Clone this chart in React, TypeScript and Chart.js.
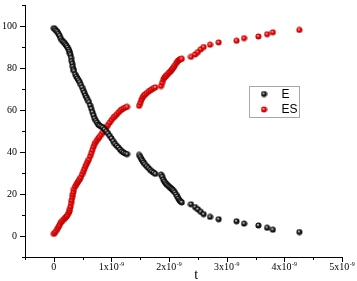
import React, { useEffect, useRef } from 'react';
import { Chart, registerables } from 'chart.js';

Chart.register(...registerables);

// time in units of 1e-9 (converted when building the dataset)
const timeNs = [
  0, 0.02, 0.04, 0.06, 0.08, 0.10, 0.12, 0.14, 0.16, 0.18,
  0.20, 0.22, 0.24, 0.26, 0.27, 0.28, 0.29, 0.30, 0.31, 0.32,
  0.33, 0.34, 0.35, 0.37, 0.39, 0.41, 0.43, 0.45, 0.47, 0.49,
  0.51, 0.53, 0.55, 0.57, 0.59, 0.61, 0.63, 0.65, 0.67, 0.69,
  0.71, 0.73, 0.75, 0.77, 0.79, 0.82, 0.85, 0.88, 0.91, 0.94,
  0.97, 1.00, 1.03, 1.06, 1.09, 1.12, 1.15, 1.18, 1.21, 1.24,
  1.27,
  1.48, 1.50, 1.52, 1.54, 1.56, 1.58, 1.61, 1.64, 1.67, 1.70, 1.73, 1.76,
  1.86, 1.88, 1.90, 1.92, 1.94, 1.96, 1.98, 2.00, 2.02, 2.04, 2.06, 2.08, 2.10, 2.12, 2.14, 2.16, 2.18, 2.20, 2.22,
  2.38, 2.45, 2.50, 2.55, 2.60, 2.71, 2.86, 3.17, 3.30, 3.55, 3.70, 3.80, 4.26,
];

const eValues = [
  99, 98.5, 97.8, 97.2, 96.3, 95.4, 94.2, 93.2, 92.6, 92,
  91.3, 90.6, 89.8, 88.8, 87.9, 87, 86.2, 84.8, 83.3, 82,
  80.6, 79.4, 78.6, 77, 75.9, 75, 74.2, 73.3, 72, 70.8,
  69.4, 68.2, 66.9, 65.9, 64.8, 63.8, 62.2, 60.6, 59, 57.5,
  56, 54.9, 54, 53.1, 52.6, 52.2, 51.6, 50.8, 49.9, 48.9,
  47.7, 46.5, 45.2, 43.9, 43, 42.2, 41.2, 40.3, 39.8, 39.3,
  39,
  38.6, 37.6, 36.6, 35.8, 35.0, 34.2, 33.3, 32.4, 31.5, 30.8, 30.2, 29.6,
  29.2, 28.2, 26.8, 25.9, 25.2, 24.6, 24.0, 23.5, 23.0, 22.5, 22.0, 21.5, 20.8, 19.8, 18.8, 17.8, 17.0, 16.5, 16.0,
  15.1, 13.8, 12.7, 11.5, 10.4, 9.1, 8.0, 7.0, 5.9, 5.0, 3.9, 3.0, 1.9,
];

const esValues = [
  1, 1.6, 2.4, 3.4, 4.3, 5.2, 6.3, 7, 7.6, 8.2,
  8.7, 9.3, 10, 11, 11.8, 12.8, 14, 15.6, 17, 18.5,
  19.8, 21, 22.4, 23.6, 24.6, 25.4, 26.2, 27, 28, 29.3,
  30.6, 31.9, 33.2, 34.3, 35.4, 36.5, 38, 39.5, 41, 42.5,
  43.8, 44.8, 45.6, 46.5, 47.2, 48.2, 49.4, 50.6, 51.7, 52.8,
  54, 55.2, 56.2, 57, 57.8, 58.8, 59.6, 60.3, 60.8, 61.2,
  61.5,
  62.0, 63.4, 64.8, 65.9, 66.7, 67.3, 68.0, 68.7, 69.3, 69.9, 70.4, 70.8,
  71.4, 73.0, 74.6, 75.5, 76.0, 76.6, 77.2, 77.8, 78.3, 79.0, 79.6, 80.3, 81.2, 82.2, 83.0, 83.6, 84.0, 84.2, 84.4,
  85.3, 86.4, 87.6, 88.9, 90.0, 91.1, 92.2, 93.0, 94.2, 95.0, 96.1, 97.0, 98.1,
];

const seriesNames = ['E', 'ES'];
const yTickLabels = [0, 20, 40, 60, 80, 100];
const xTickMultiples = [0, 1, 2, 3, 4, 5];
const xExponent = '-9';
const xAxisTitle = 't';

function makeBall(light: string, base: string, dark: string): HTMLCanvasElement {
  const c = document.createElement('canvas');
  c.width = 7;
  c.height = 7;
  const g = c.getContext('2d')!;
  const grad = g.createRadialGradient(2.9, 2.7, 0.2, 3.5, 3.5, 3.2);
  grad.addColorStop(0, light);
  grad.addColorStop(0.4, base);
  grad.addColorStop(1, dark);
  g.fillStyle = grad;
  g.beginPath();
  g.arc(3.5, 3.5, 3.0, 0, Math.PI * 2);
  g.fill();
  return c;
}

export default function App() {
  const ref = useRef<HTMLCanvasElement>(null);

  useEffect(() => {
    const canvas = ref.current;
    if (!canvas) return;
    const blackBall = makeBall('#f4f4f4', '#222222', '#000000');
    const redBall = makeBall('#ffc8c8', '#f00606', '#b00000');
    const balls = [blackBall, redBall];

    const axesPlugin = {
      id: 'customAxes',
      afterDraw(chart: any) {
        const ctx = chart.ctx;
        const xs = chart.scales.x;
        const ys = chart.scales.y;
        const area = chart.chartArea;
        ctx.save();
        ctx.strokeStyle = '#000';
        ctx.lineWidth = 1;
        for (let v = -10; v <= 110; v += 10) {
          const py = Math.round(ys.getPixelForValue(v)) + 0.5;
          const len = v % 20 === 0 ? 5 : 3;
          ctx.beginPath();
          ctx.moveTo(area.left, py);
          ctx.lineTo(area.left - len, py);
          ctx.stroke();
        }
        for (let k = -1; k <= 10; k++) {
          const v = k * 0.5e-9;
          const px = Math.round(xs.getPixelForValue(v)) + 0.5;
          const len = k % 2 === 0 ? 5 : 3;
          ctx.beginPath();
          ctx.moveTo(px, area.bottom);
          ctx.lineTo(px, area.bottom + len);
          ctx.stroke();
        }
        ctx.fillStyle = '#000';
        ctx.textBaseline = 'alphabetic';
        const baseY = area.bottom + 13;
        xTickMultiples.forEach((n) => {
          const px = xs.getPixelForValue(n * 1e-9);
          if (n === 0) {
            ctx.font = '10px "Liberation Serif"';
            ctx.textAlign = 'center';
            ctx.fillText('0', px, baseY);
          } else {
            ctx.font = '10px "Liberation Serif"';
            const base = `${n}x10`;
            const w = ctx.measureText(base).width;
            ctx.font = '6px "Liberation Serif"';
            const we = ctx.measureText(xExponent).width;
            const start = px - (w + 0.5 + we) / 2;
            ctx.textAlign = 'left';
            ctx.font = '10px "Liberation Serif"';
            ctx.fillText(base, start, baseY);
            ctx.font = '6px "Liberation Serif"';
            ctx.fillText(xExponent, start + w + 0.5, baseY - 4);
          }
        });
        ctx.font = '14px "Liberation Serif"';
        ctx.textAlign = 'center';
        ctx.fillText(xAxisTitle, xs.getPixelForValue(2.47e-9), area.bottom + 22);
        ctx.restore();
      },
    };

    const legendPlugin = {
      id: 'boxLegend',
      afterDraw(chart: any) {
        const ctx = chart.ctx;
        const area = chart.chartArea;
        const bx = Math.round(area.left + 224) + 0.5;
        const by = Math.round(area.top + 81) + 0.5;
        ctx.save();
        ctx.fillStyle = '#fff';
        ctx.fillRect(bx, by, 50, 31);
        ctx.strokeStyle = '#a8a8a8';
        ctx.lineWidth = 1;
        ctx.strokeRect(bx, by, 50, 31);
        ctx.font = '12px "Liberation Sans"';
        ctx.fillStyle = '#000';
        ctx.textAlign = 'left';
        ctx.textBaseline = 'middle';
        seriesNames.forEach((name, i) => {
          const cy = by + 7.5 + i * 15.5;
          ctx.drawImage(balls[i], bx + 11, cy - 3.5);
          ctx.fillText(name, bx + 32, cy + 0.5);
        });
        ctx.restore();
      },
    };

    const chart = new Chart(canvas, {
      type: 'scatter',
      data: {
        datasets: [
          {
            label: seriesNames[0],
            data: timeNs.map((t, i) => ({ x: t * 1e-9, y: eValues[i] })),
            pointStyle: blackBall,
            pointRadius: 3,
            showLine: false,
          },
          {
            label: seriesNames[1],
            data: timeNs.map((t, i) => ({ x: t * 1e-9, y: esValues[i] })),
            pointStyle: redBall,
            pointRadius: 3,
            showLine: false,
          },
        ],
      },
      options: {
        responsive: false,
        animation: false,
        layout: { padding: { top: 2, right: 15, left: 0, bottom: 0 } },
        plugins: {
          legend: { display: false },
          tooltip: { enabled: false },
        },
        scales: {
          x: {
            type: 'linear',
            min: -0.5e-9,
            max: 5e-9,
            ticks: { display: false, stepSize: 0.5e-9 },
            grid: { display: false, drawTicks: false },
            border: { display: true, color: '#000', width: 1 },
            afterFit: (s: any) => {
              s.height = 24;
              s.paddingLeft = 0;
              s.paddingRight = 0;
              s.paddingTop = 0;
              s.paddingBottom = 0;
            },
          },
          y: {
            min: -10,
            max: 110,
            ticks: {
              stepSize: 10,
              padding: 8,
              color: '#000',
              font: { family: 'Liberation Serif', size: 10 },
              callback: (v: any) => (yTickLabels.includes(Number(v)) ? String(v) : ''),
            },
            grid: { display: false, drawTicks: false },
            border: { display: true, color: '#000', width: 1 },
            afterFit: (s: any) => {
              s.width = 25;
              s.paddingTop = 0;
              s.paddingBottom = 0;
              s.paddingLeft = 0;
              s.paddingRight = 0;
            },
          },
        },
      },
      plugins: [axesPlugin, legendPlugin],
    });
    return () => chart.destroy();
  }, []);

  return (
    <div style={{ position: 'fixed', left: 0, top: 0, width: 357, height: 281, background: '#fff' }}>
      <canvas ref={ref} width={357} height={281} style={{ display: 'block' }} />
    </div>
  );
}
